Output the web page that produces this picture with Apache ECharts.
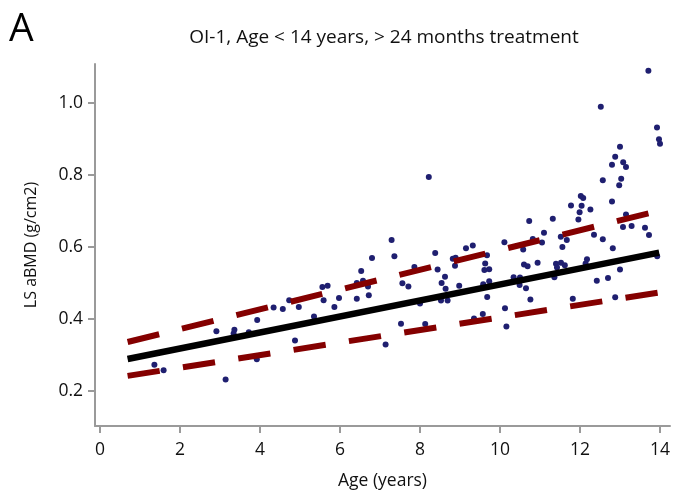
<!DOCTYPE html>
<html>
<head>
<meta charset="utf-8">
<script src="https://cdn.jsdelivr.net/npm/echarts@6/dist/echarts.min.js"></script>
<style>html,body{margin:0;padding:0;background:#fff}#c{width:673px;height:502px}</style>
</head>
<body>
<div id="c"></div>
<script>
// ---- data ----
const ages = [1.36,1.59,2.91,3.14,3.34,3.36,3.72,3.92,3.93,4.34,4.57,4.73,4.875,4.97,5.35,5.56,5.59,5.69,5.86,5.975,6.42,6.42,6.53,6.575,6.7,6.72,6.8,7.14,7.29,7.36,7.525,7.56,7.71,7.86,8.0,8.13,8.22,8.38,8.44,8.525,8.54,8.625,8.64,8.69,8.82,8.875,8.89,8.98,9.15,9.32,9.35,9.57,9.58,9.61,9.63,9.675,9.68,9.73,9.73,10.11,10.125,10.16,10.34,10.49,10.5,10.58,10.6,10.65,10.69,10.73,10.76,10.82,10.94,11.05,11.1,11.32,11.36,11.4,11.425,11.52,11.525,11.56,11.62,11.67,11.775,11.82,11.96,11.99,12.02,12.04,12.08,12.14,12.175,12.26,12.35,12.42,12.52,12.57,12.57,12.7,12.8,12.8,12.82,12.88,12.88,12.98,13.0,13.0,13.03,13.075,13.08,13.15,13.15,13.29,13.625,13.71,13.725,13.925,13.93,13.975,14.0];
const bmd = [0.273,0.258,0.366,0.232,0.360,0.370,0.363,0.288,0.397,0.432,0.428,0.452,0.340,0.433,0.407,0.489,0.452,0.492,0.433,0.458,0.456,0.500,0.533,0.506,0.490,0.466,0.569,0.329,0.619,0.574,0.387,0.499,0.490,0.544,0.443,0.386,0.794,0.583,0.537,0.451,0.500,0.517,0.484,0.451,0.567,0.548,0.570,0.492,0.596,0.604,0.401,0.414,0.496,0.536,0.554,0.577,0.461,0.505,0.538,0.613,0.430,0.379,0.516,0.494,0.515,0.593,0.551,0.485,0.546,0.672,0.454,0.622,0.556,0.612,0.639,0.678,0.516,0.553,0.543,0.628,0.556,0.600,0.549,0.619,0.715,0.456,0.676,0.696,0.741,0.714,0.736,0.554,0.566,0.704,0.634,0.506,0.989,0.785,0.621,0.514,0.828,0.726,0.596,0.850,0.460,0.771,0.878,0.537,0.789,0.655,0.835,0.822,0.690,0.658,0.653,1.089,0.633,0.931,0.574,0.899,0.886];

const fitX = [0.69, 13.98];
const fitY = [0.289, 0.584];
const upperX = [0.69, 14.0];
const upperY = [0.336, 0.701];
const lowerX = [0.69, 14.0];
const lowerY = [0.242, 0.474];

const xTicks = [0,2,4,6,8,10,12,14];
const yTicks = [0.2,0.4,0.6,0.8,1.0];

const titleText = 'OI-1, Age < 14 years, > 24 months treatment';
const xName = 'Age (years)';
const yName = 'LS aBMD (g/cm2)';
const panelLetter = 'A';

// ---- build ----
const zip = (a, b) => a.map((v, i) => [v, b[i]]);
const FONT = 'Open Sans';
const axisColor = '#9a9a9a';

const chart = echarts.init(document.getElementById('c'), null, {renderer: 'canvas'});
chart.setOption({
  animation: false,
  backgroundColor: '#fff',
  textStyle: {fontFamily: FONT},
  title: {
    text: titleText,
    left: 379, top: 23, textAlign: 'center',
    textStyle: {fontFamily: FONT, fontSize: 19, fontWeight: 'normal', color: '#111'}
  },
  graphic: [{
    type: 'text', left: 9, top: 10,
    style: {text: panelLetter, fontFamily: FONT, fontSize: 39, fill: '#000'}
  }],
  grid: {left: 95, right: 3, top: 64, bottom: 76, containLabel: false},
  xAxis: {
    type: 'value', min: -0.125, max: 14.25,
    name: xName, nameLocation: 'middle', nameGap: 46,
    nameTextStyle: {fontFamily: FONT, fontSize: 17.5, color: '#111'},
    axisLine: {show: true, onZero: false, lineStyle: {color: axisColor, width: 2}},
    axisTick: {show: true, length: 7, customValues: xTicks, lineStyle: {color: axisColor, width: 2}},
    axisLabel: {customValues: xTicks, margin: 15, fontFamily: FONT, fontSize: 17.5, color: '#111',
      formatter: v => String(Math.round(v))},
    splitLine: {show: false}
  },
  yAxis: {
    type: 'value', min: 0.103, max: 1.1075,
    name: yName, nameLocation: 'middle', nameGap: 56, nameRotate: 90,
    nameTextStyle: {fontFamily: FONT, fontSize: 16, color: '#111'},
    axisLine: {show: true, onZero: false, lineStyle: {color: axisColor, width: 2}},
    axisTick: {show: true, length: 7, customValues: yTicks, lineStyle: {color: axisColor, width: 2}},
    axisLabel: {customValues: yTicks, margin: 12, fontFamily: FONT, fontSize: 17.5, color: '#111',
      formatter: v => v.toFixed(1)},
    splitLine: {show: false}
  },
  series: [
    {
      type: 'scatter', data: zip(ages, bmd), symbolSize: 6, z: 2,
      itemStyle: {color: '#1f1f70', opacity: 1}
    },
    {
      type: 'line', data: zip(fitX, fitY), showSymbol: false, symbol: 'none', z: 3,
      lineStyle: {color: '#000', width: 6.5, cap: 'butt'}
    },
    {
      type: 'line', data: zip(upperX, upperY), showSymbol: false, symbol: 'none', z: 4,
      lineStyle: {color: '#840000', width: 6, type: [32.5, 23.5], cap: 'butt'}
    },
    {
      type: 'line', data: zip(lowerX, lowerY), showSymbol: false, symbol: 'none', z: 4,
      lineStyle: {color: '#840000', width: 6, type: [32.5, 23.5], cap: 'butt'}
    }
  ]
});
</script>
</body>
</html>
